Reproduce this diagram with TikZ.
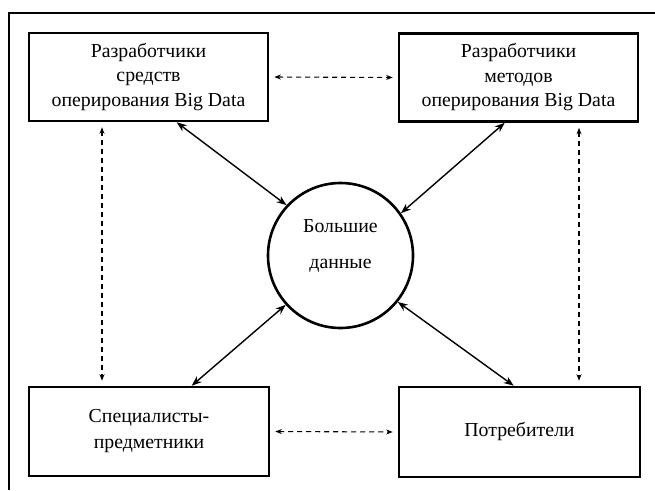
\documentclass[tikz,border=0pt]{standalone}
\usepackage{fontspec}
\setmainfont{Liberation Serif}
\usetikzlibrary{arrows.meta}
\begin{document}
\begin{tikzpicture}[x=1pt,y=-1pt,
  boxnode/.style={draw,line width=2.6pt,rectangle,minimum width=239pt,minimum height=88pt,align=center,inner sep=0pt,font=\fontsize{19.8}{24.5}\selectfont},
  circnode/.style={draw,line width=2.6pt,circle,minimum size=145pt,inner sep=0pt,align=center,font=\fontsize{19.8}{24.5}\selectfont},
  solidlink/.style={line width=1.4pt,{Stealth[length=10pt,width=7.5pt]}-{Stealth[length=10pt,width=7.5pt]}},
  dashlink/.style={line width=1.1pt,dash pattern=on 5pt off 4pt,{Stealth[length=6.5pt,width=5pt]}-{Stealth[length=6.5pt,width=5pt]},shorten <=5pt,shorten >=5pt}]
\useasboundingbox (0,0) rectangle (655,490);
\draw[line width=2.2pt] (9,490) -- (9,13) -- (655,13);
\node[boxnode] (tl) at (148.5,77) {Разработчики\\средств\\оперирования Big Data};
\node[boxnode] (tr) at (518.5,77.5) {Разработчики\\методов\\оперирования Big Data};
\node[boxnode,minimum width=240pt,minimum height=89pt] (bl) at (149,431.5) {Специалисты-\\[1.5pt]предметники};
\node[boxnode,minimum width=241pt,minimum height=90pt] (br) at (519.5,432) {Потребители};
\node[circnode] (c) at (340.5,255.5) {Большие\\[11pt]данные\\[-2pt]\mbox{}};
\draw[solidlink] ([xshift=149pt]tl.south west) -- (c.137);
\draw[solidlink] ([xshift=107pt]tr.south west) -- (c.35.6);
\draw[solidlink] ([xshift=164pt]bl.north west) -- (c.222);
\draw[solidlink] ([xshift=116pt]br.north west) -- (c.321.6);
\draw[dashlink] (tl.east) -- (tr.west);
\draw[dashlink] (bl.east) -- (br.west);
\draw[dashlink] ([xshift=-46.5pt]tl.south) -- ([xshift=-47pt]bl.north);
\draw[dashlink] ([xshift=60.5pt]tr.south) -- ([xshift=59.5pt]br.north);
\end{tikzpicture}
\end{document}
